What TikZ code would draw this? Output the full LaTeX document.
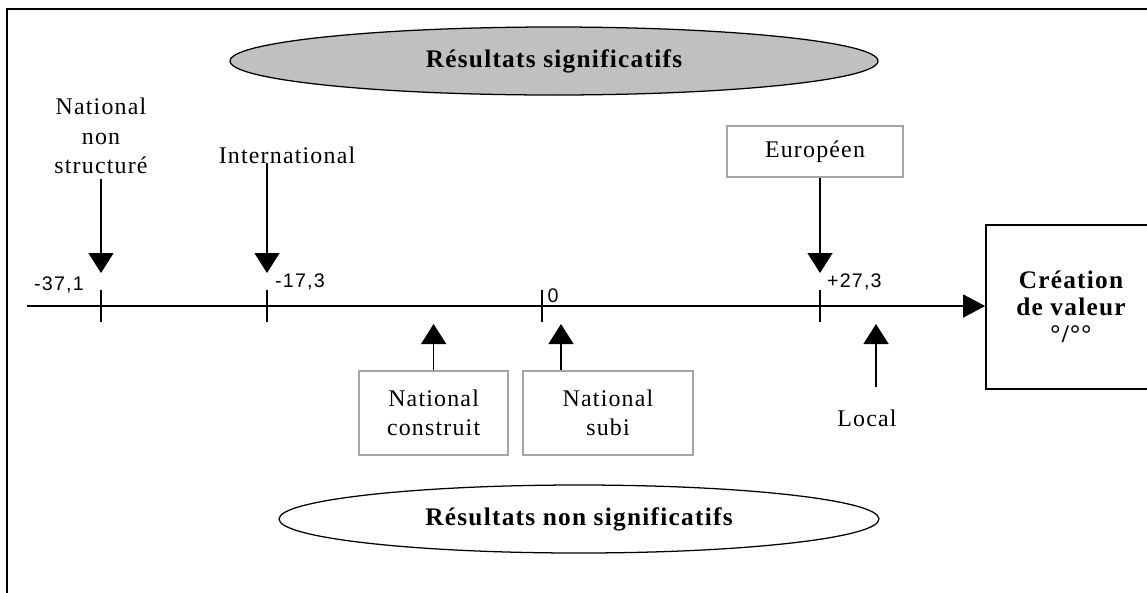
\documentclass[tikz,border=0pt]{standalone}
\usepackage{fontspec}
\setmainfont{Liberation Serif}
\newfontfamily\lblfont{Liberation Serif}[LetterSpace=5]
\newfontfamily\numfont{Liberation Sans}[LetterSpace=6]
\usepackage{xcolor}
\definecolor{ovalgray}{RGB}{192,192,192}
\definecolor{boxgray}{RGB}{165,165,165}
\usetikzlibrary{arrows.meta}
\usetikzlibrary{shapes.geometric}

\begin{document}
\begin{tikzpicture}[
	every node/.style={align=center, font=\lblfont\fontsize{17}{21}\selectfont},
	axisline/.style={line width=0.9pt},
	bigtip/.style={line width=0.9pt, -{Triangle[length=0.5cm,width=0.625cm]}},
	greybox/.style={draw=boxgray, line width=1.2pt, minimum height=2.1cm, inner sep=0pt},
	oval/.style={ellipse, draw, line width=0.9pt, minimum height=1.7cm, inner sep=0pt, font=\lblfont\bfseries\fontsize{18}{20}\selectfont},
	numlbl/.style={inner sep=0pt, font=\numfont\fontsize{14}{16}\selectfont}]
	\clip (0,0) rectangle (28.675,-14.8);
	% frame
	\draw[line width=1.4pt] (0.175,-15) -- (0.175,-0.225) -- (29,-0.225);
	% the two ovals
	\node[oval, fill=ovalgray, minimum width=16.2cm] (signif) at (13.85,-1.525) {Résultats significatifs};
	\node[oval, minimum width=15cm] (nonsignif) at (14.475,-12.975) {Résultats non significatifs};
	% axis
	\node[draw, line width=1.2pt, minimum width=4.25cm, minimum height=4.1cm, font=\lblfont\bfseries\fontsize{18}{19}\selectfont] (creation) at (26.775,-7.675) {Création\\de valeur\\°/°°};
	\coordinate (axstart) at (0.675,-7.65);
	\draw[line width=0.9pt, -{Triangle[length=0.55cm,width=0.575cm]}] (axstart) -- (axstart -| creation.west);
	\foreach \x/\n in {2.525/1, 6.675/2, 13.55/3, 20.5/4}{
		\coordinate (t\n) at (\x,-7.65);
		\draw[axisline] (t\n) ++(0,0.41) -- ++(0,-0.82);
	}
	\node[numlbl] (v1) at (1.475,-7.125) {-37,1};
	\node[numlbl] (v2) at (7.5,-7.05) {-17,3};
	\node[numlbl] (v3) at (13.825,-7.4) {0};
	\node[numlbl] (v4) at (21.36,-7.05) {+27,3};
	% above the axis
	\node (nns) at (2.525,-3.4) {National\\non\\structuré};
	\draw[bigtip] (nns.south) -- ([yshift=0.825cm]t1);
	\node (intl) at (7.175,-3.875) {International};
	\coordinate (intlfoot) at ([yshift=-0.2cm]intl.center);
	\draw[bigtip] (intlfoot -| t2) -- ([yshift=0.825cm]t2);
	\node[greybox, minimum width=4.4cm, minimum height=1.275cm] (europ) at (20.375,-3.79) {Européen};
	\draw[bigtip] (europ.south -| t4) -- ([yshift=0.825cm]t4);
	% below the axis
	\coordinate (tipup) at (0,-8.1);
	\node[greybox, minimum width=3.725cm] (construit) at (10.84,-10.325) {National\\construit};
	\draw[bigtip] (construit.north) -- (construit.north |- tipup);
	\node[greybox, minimum width=4.25cm] (subi) at (15.2,-10.325) {National\\subi};
	\coordinate (subix) at (14.025,0);
	\draw[bigtip] (subi.north -| subix) -- (subix |- tipup);
	\node (local) at (21.675,-10.45) {Local};
	\coordinate (localfoot) at (21.9,-9.675);
	\draw[bigtip] (localfoot) -- (localfoot |- tipup);
\end{tikzpicture}
\end{document}
